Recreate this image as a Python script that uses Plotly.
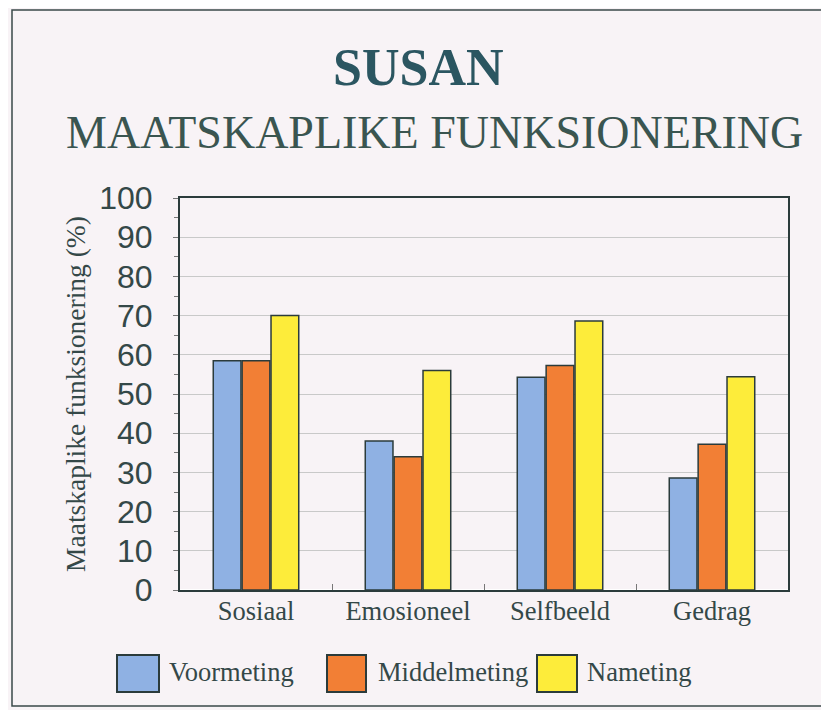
import plotly.graph_objects as go

categories = ["Sosiaal", "Emosioneel", "Selfbeeld", "Gedrag"]
series_names = ["Voormeting", "Middelmeting", "Nameting"]
voormeting = [58.5, 38, 54.3, 28.6]
middelmeting = [58.5, 34, 57.3, 37.2]
nameting = [70, 56, 68.6, 54.4]
y_ticks = list(range(0, 101, 10))

colors = ["#8fb1e3", "#f27f35", "#fdec3a"]
outline = "#2b3b3b"
bg = "#f8f3f6"
txt = "#344848"

OFF = 8  # page body margin
W, H = 829, 710
L, R, T, B = 180 - OFF, 788 - OFF, 198 - OFF, 590 - OFF
def px(x):
    return (x - OFF - L) / (R - L)
def py(y):
    return (B - (y - OFF)) / (B - T)

fig = go.Figure()
for name, vals, c in zip(series_names, [voormeting, middelmeting, nameting], colors):
    fig.add_trace(go.Bar(x=categories, y=vals, name=name,
                         marker=dict(color=c, line=dict(color=outline, width=1.5)),
                         showlegend=False))

shapes = [dict(type="rect", xref="paper", yref="paper",
               x0=px(12), x1=px(845), y0=py(706), y1=py(10),
               line=dict(color="#3a4a4a", width=1.5), layer="below")]
annotations = [
    dict(text="<b>SUSAN</b>", x=px(418), y=py(68), xref="paper", yref="paper",
         xanchor="center", yanchor="middle",
         showarrow=False, font=dict(family="Liberation Serif", size=52, color="#2b5661")),
    dict(text="MAATSKAPLIKE FUNKSIONERING", x=px(434), y=py(133), xref="paper", yref="paper",
         xanchor="center", yanchor="middle",
         showarrow=False, font=dict(family="Liberation Serif", size=46, color="#3a5550")),
]
legend_box = [(117, 159), (327, 366), (537, 577)]
legend_text_x = [167, 376, 585]
for name, c, (x0, x1), tx in zip(series_names, colors, legend_box, legend_text_x):
    shapes.append(dict(type="rect", xref="paper", yref="paper",
                       x0=px(x0), x1=px(x1), y0=py(692), y1=py(655),
                       fillcolor=c, line=dict(color=outline, width=2)))
    annotations.append(dict(text=name, x=px(tx), y=py(672), xref="paper", yref="paper",
                            xanchor="left", yanchor="middle", showarrow=False,
                            font=dict(family="Liberation Serif", size=26.5, color=txt)))

fig.update_layout(
    width=W, height=H,
    margin=dict(l=L, r=W - R, t=T, b=H - B),
    paper_bgcolor=bg, plot_bgcolor=bg,
    barmode="group", bargap=0.43, bargroupgap=0.04,
    shapes=shapes, annotations=annotations,
    xaxis=dict(tickson="boundaries", ticks="inside", ticklen=6, tickcolor="#777",
               ticklabelstandoff=-4,
               showline=True, linecolor=outline, linewidth=2, mirror=True,
               tickfont=dict(family="Liberation Serif", size=26.5, color=txt)),
    yaxis=dict(range=[0, 100], tickvals=y_ticks, ticks="outside", ticklen=5,
               tickcolor="#777", ticklabelstandoff=14,
               minor=dict(dtick=5, ticks="outside", ticklen=4, tickcolor="#777", showgrid=False),
               showgrid=True, gridcolor="#c9c9c9", gridwidth=1,
               showline=True, linecolor=outline, linewidth=2, mirror=True,
               tickfont=dict(family="Liberation Sans", size=32, color=txt),
               title=dict(text="Maatskaplike funksionering (%)", standoff=6,
                          font=dict(family="Liberation Serif", size=27.5, color=txt))),
)
fig.write_html("out.html")
